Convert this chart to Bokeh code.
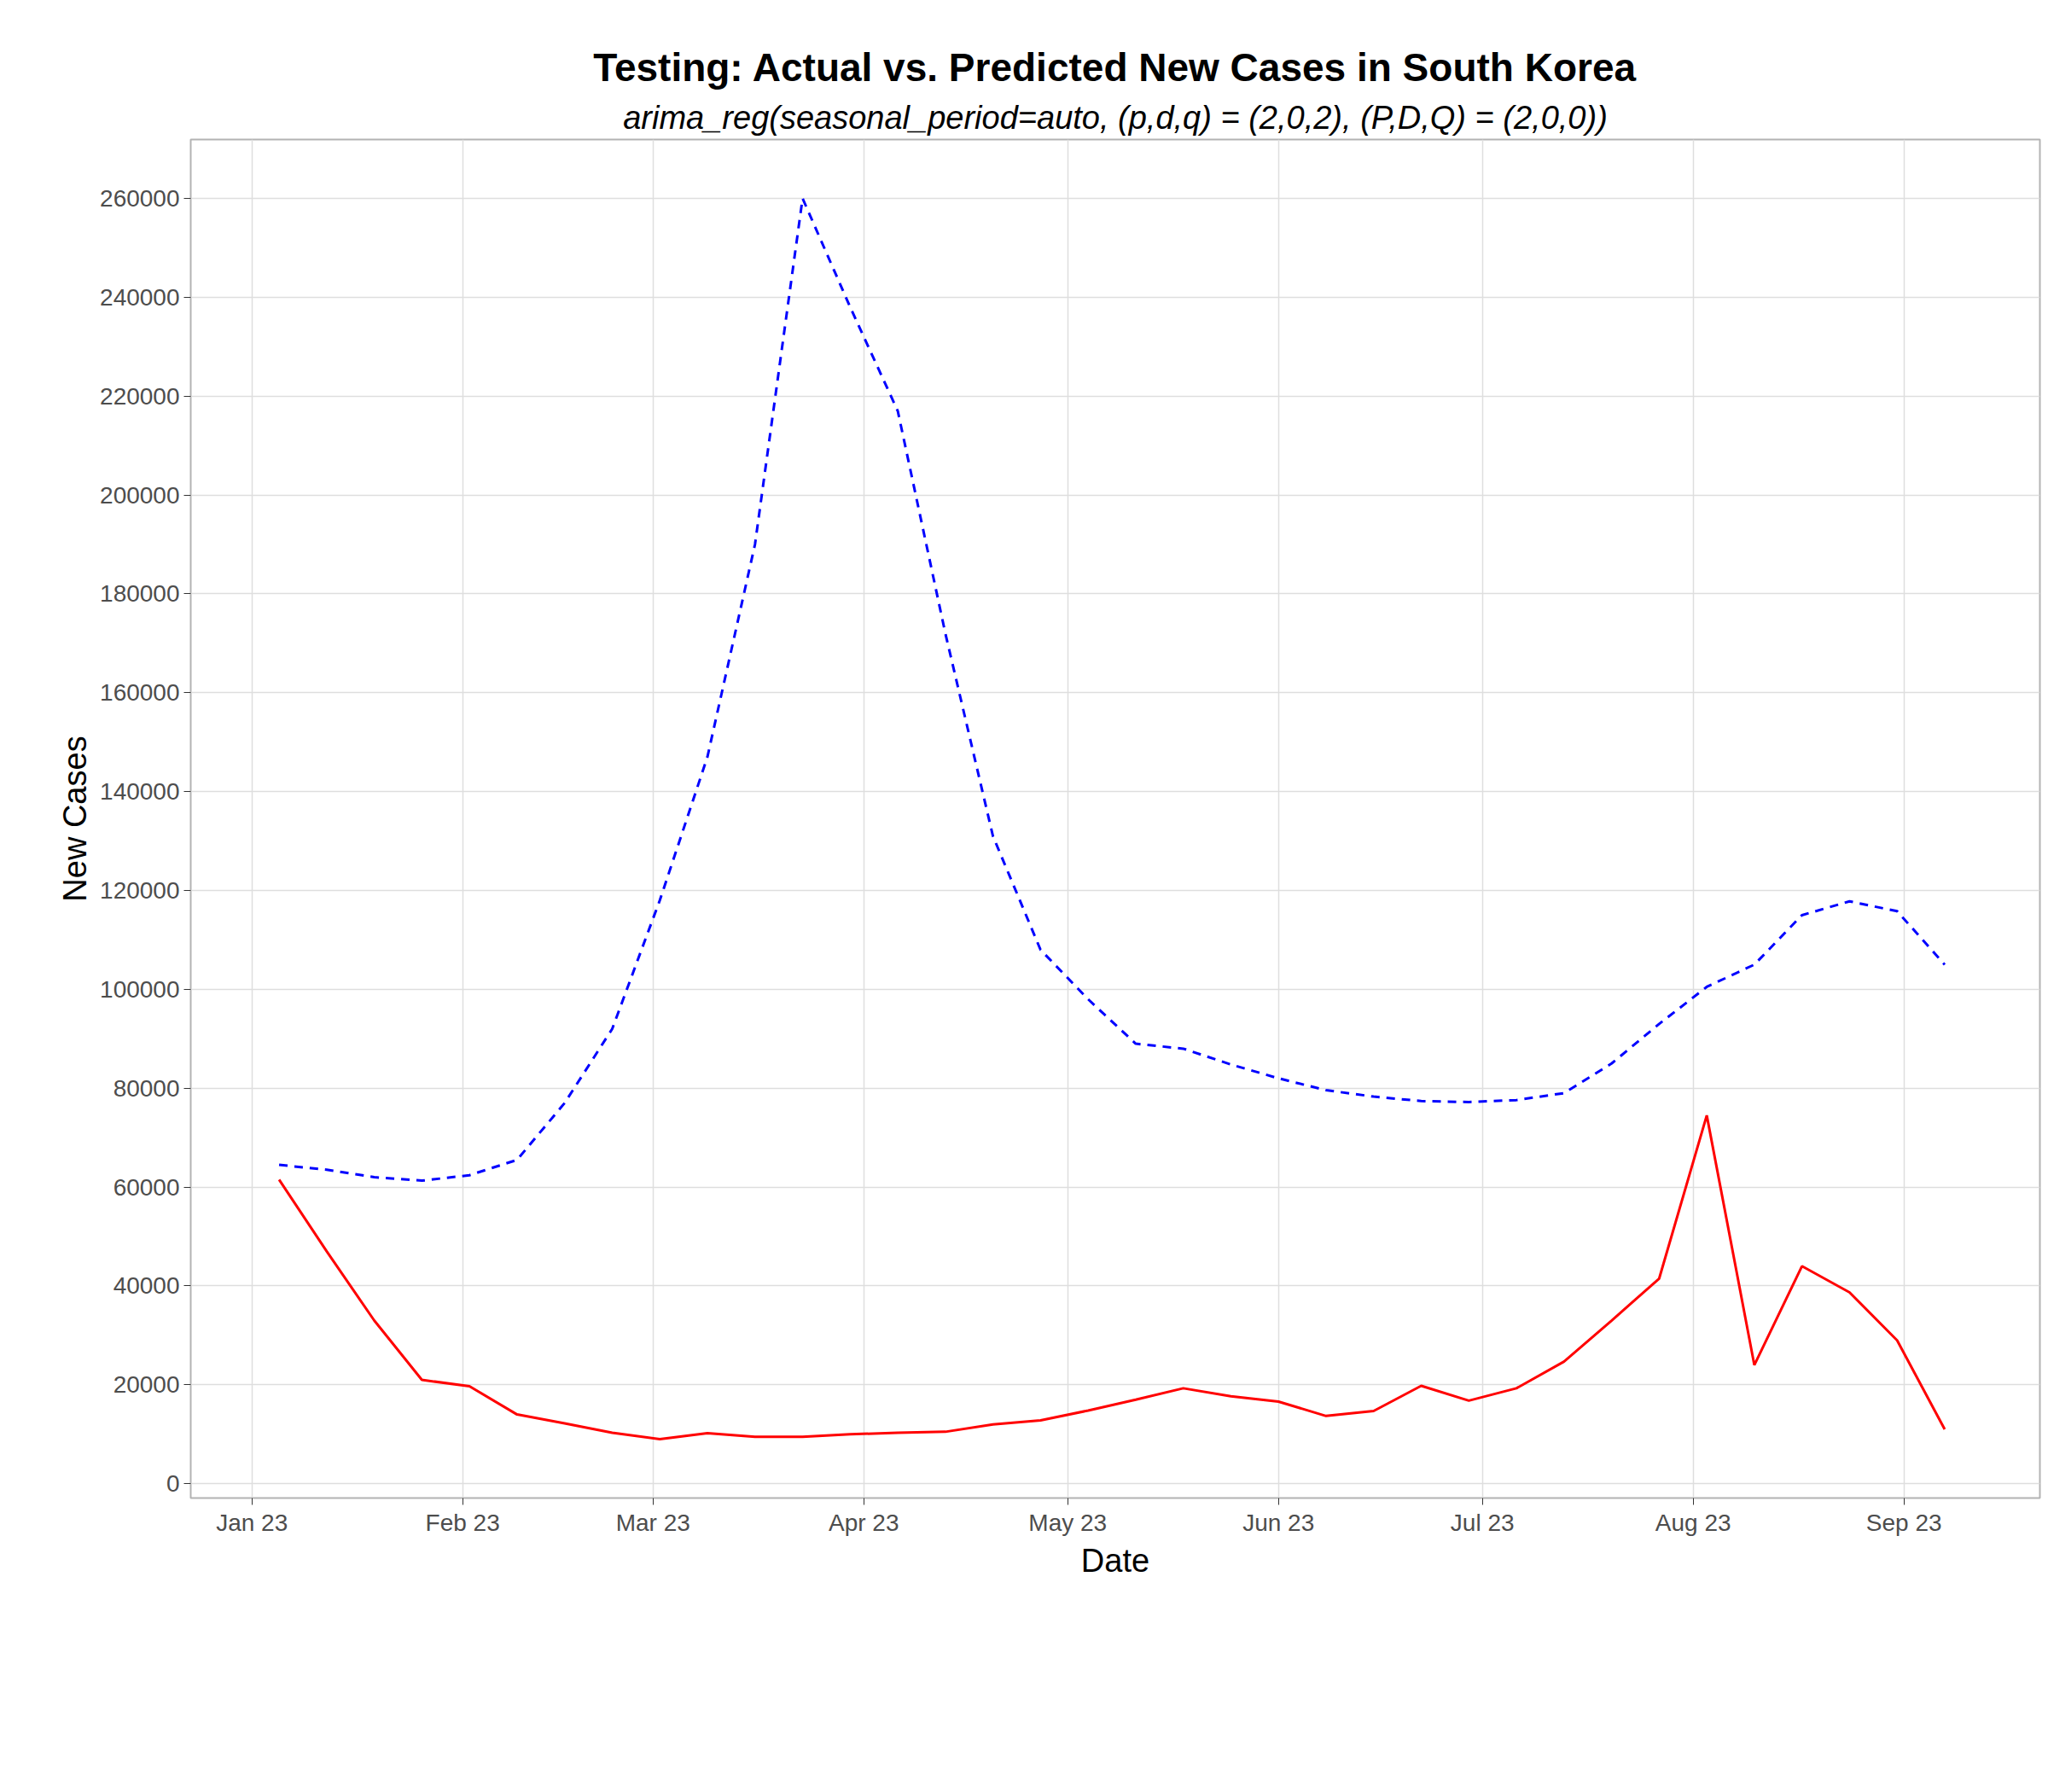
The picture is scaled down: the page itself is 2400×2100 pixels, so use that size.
import pandas as pd
from bokeh.plotting import figure
from bokeh.models import Title, Legend, LegendItem, Range1d, FixedTicker, DatetimeTickFormatter, ColumnDataSource
from bokeh.embed import file_html
from bokeh.resources import INLINE

dates = pd.date_range("2023-01-05", periods=36, freq="7D")
actual = [61500, 47000, 33000, 21000, 19700, 14000, 12200, 10300, 9000, 10200, 9500, 9500,
          10000, 10300, 10500, 12000, 12800, 14800, 17000, 19300, 17700, 16600, 13700, 14700,
          19800, 16800, 19300, 24700, 33000, 41500, 74500, 24000, 44000, 38700, 29000, 11000]
predicted = [64500, 63500, 62000, 61300, 62400, 65500, 77000, 92000, 118000, 147000, 190000, 260000,
             238000, 217000, 172000, 131000, 108000, 98000, 89000, 88000, 84800, 82000, 79600, 78300,
             77400, 77200, 77600, 79000, 85000, 93000, 100500, 105000, 115000, 117800, 115800, 105000]
month_ticks = pd.date_range("2023-01-01", periods=9, freq="MS")
y_ticks = list(range(0, 260001, 20000))

FONT = "Liberation Sans"
src = ColumnDataSource(dict(d=dates, a=actual, p=predicted))

p = figure(frame_width=2167, frame_height=1592, x_axis_type="datetime", output_backend="svg", toolbar_location=None,
           min_border_left=223, min_border_right=10, min_border_top=163, min_border_bottom=329,
           x_range=Range1d(pd.Timestamp("2022-12-23"), pd.Timestamp("2023-09-21")),
           y_range=Range1d(-2900, 271900))
p.outline_line_color = "#b3b3b3"
p.outline_line_width = 2
p.background_fill_color = "white"
for ax in (p.xaxis[0], p.yaxis[0]):
    ax.axis_line_color = None
    ax.major_tick_line_color = "#333333"
    ax.major_tick_out = 8
    ax.major_tick_in = 0
    ax.minor_tick_line_color = None
    ax.major_label_text_font = FONT
    ax.major_label_text_font_size = "28px"
    ax.major_label_text_color = "#4d4d4d"
    ax.axis_label_text_font = FONT
    ax.axis_label_text_font_size = "38px"
    ax.axis_label_text_font_style = "normal"
    ax.axis_label_text_color = "black"
p.xaxis.axis_label = "Date"
p.yaxis.axis_label = "New Cases"
p.xaxis.ticker = FixedTicker(ticks=[t.value // 10**6 for t in month_ticks])
p.xaxis.formatter = DatetimeTickFormatter(months="%b %y", days="%b %y")
p.yaxis.ticker = FixedTicker(ticks=y_ticks)
p.yaxis.formatter.use_scientific = False
p.xgrid.grid_line_color = "#dedede"
p.ygrid.grid_line_color = "#dedede"
p.xgrid.grid_line_width = 1.5
p.ygrid.grid_line_width = 1.5

r1 = p.line("d", "a", source=src, line_color="red", line_width=3)
r2 = p.line("d", "p", source=src, line_color="blue", line_width=3, line_dash="10 8")

p.add_layout(Title(text="arima_reg(seasonal_period=auto, (p,d,q) = (2,0,2), (P,D,Q) = (2,0,0))",
                   align="center", text_font=FONT, text_font_size="38px", text_font_style="italic",
                   text_color="black"), "above")
p.add_layout(Title(text="Testing: Actual vs. Predicted New Cases in South Korea",
                   align="center", text_font=FONT, text_font_size="46px", text_font_style="bold",
                   text_color="black"), "above")

leg = Legend(items=[LegendItem(label="Actual New Cases", renderers=[r1]),
                    LegendItem(label="Predicted New Cases", renderers=[r2])],
             orientation="horizontal", location="center", border_line_color=None,
             label_text_font=FONT, label_text_font_size="31px", glyph_width=50,
             spacing=30, margin=60)
p.add_layout(leg, "below")
p.add_layout(Title(text="ARIMA", align="right", text_font=FONT, text_font_size="30px",
                   text_font_style="normal", text_color="black"), "below")

open("out.html", "w").write(file_html(p, INLINE))
